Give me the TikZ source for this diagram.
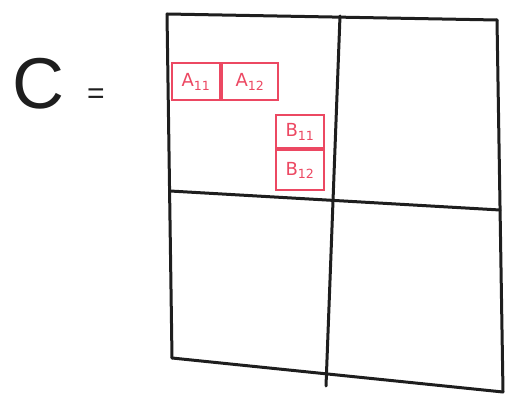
\documentclass[tikz,border=0pt]{standalone}
\usepackage{fontspec}
\setmainfont{DejaVu Sans}
\newfontfamily\thinfont{Liberation Sans}
\definecolor{handred}{RGB}{236,72,98}
\definecolor{ink}{RGB}{30,30,30}
\begin{document}
\begin{tikzpicture}[x=1pt,y=-1pt,
  gridline/.style={ink,line width=3pt,line cap=round},
  redcell/.style={draw=handred,line width=2pt,text=handred,inner sep=0pt,font=\fontsize{18}{18}\selectfont},
]
\useasboundingbox (0,0) rectangle (514,403);
% grid corners
\coordinate (tl) at (167,14);
\coordinate (tm) at (340,16);
\coordinate (tr) at (497,20);
\coordinate (ml) at (170,191);
\coordinate (mr) at (500,210);
\coordinate (bl) at (172,358);
\coordinate (bm) at (326,386);
\coordinate (br) at (503,392);
\draw[gridline] (tl) -- (tr);
\draw[gridline] (tl) -- (bl);
\draw[gridline] (tr) -- (br);
\draw[gridline] (bl) -- (br);
\draw[gridline] (tm) -- (bm);
\draw[gridline] (ml) -- (mr);
% C =
\node[ink,font=\thinfont\fontsize{72}{72}\selectfont] (C) at (38,84) {C};
\node[ink,font=\thinfont\fontsize{30}{30}\selectfont] (eq) at (96,96) {=};
% red A blocks
\node[redcell,minimum width=48pt,minimum height=37pt] (a11) at (196,82) {A\textsubscript{11}};
\node[redcell,minimum width=56pt,minimum height=37pt,anchor=west] (a12) at (a11.east) {A\textsubscript{12}};
% red B blocks
\node[redcell,minimum width=48pt,minimum height=33pt] (b11) at (300,132) {B\textsubscript{11}};
\node[redcell,minimum width=48pt,minimum height=40pt,anchor=north] (b12) at (b11.south) {B\textsubscript{12}};
\end{tikzpicture}
\end{document}
